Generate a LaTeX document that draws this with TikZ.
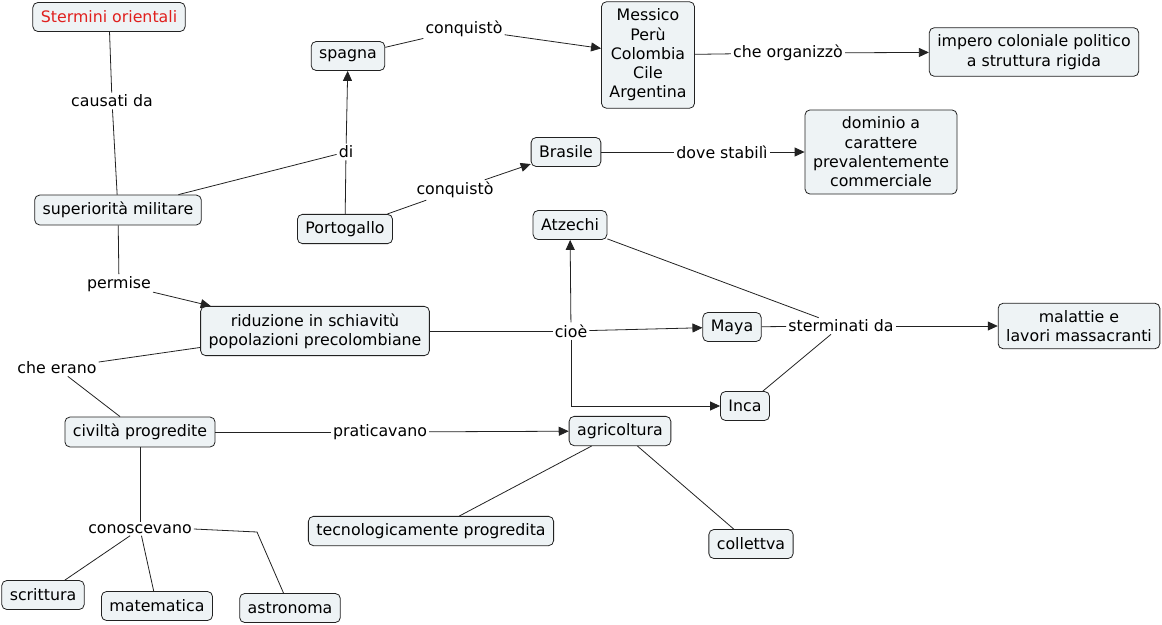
\documentclass[tikz,border=0pt]{standalone}
\usepackage{fontspec}
\setmainfont{DejaVu Sans}
\usetikzlibrary{arrows.meta}
\definecolor{boxfill}{HTML}{EEF3F5}
\definecolor{redtext}{HTML}{E0201E}
\definecolor{ink}{HTML}{222222}
\begin{document}
\begin{tikzpicture}[x=1pt,y=-1pt,
  concept/.style={draw=ink, fill=boxfill, rounded corners=5pt, align=center,
    inner xsep=8pt, inner ysep=7pt, minimum height=29pt,
    font=\fontsize{15.8}{19.3}\selectfont, line width=0.8pt},
  lbl/.style={inner sep=2pt, font=\fontsize{15.8}{19.3}\selectfont},
  link/.style={draw=ink, line width=0.8pt},
  arr/.style={link, -{Triangle[length=10pt,width=9pt]}}]
\useasboundingbox (0,0) rectangle (1162,624);

% concepts
\node[concept, text=redtext] (ster) at (109,17) {Stermini orientali};
\node[concept] (spagna) at (348,56) {spagna};
\node[concept] (mess) at (648,55) {Messico\\Perù\\Colombia\\Cile\\Argentina};
\node[concept] (imp) at (1034,52) {impero coloniale politico\\a struttura rigida};
\node[concept] (bras) at (566,152) {Brasile};
\node[concept] (dom) at (881,152) {dominio a\\carattere\\prevalentemente\\commerciale};
\node[concept] (sup) at (118,210) {superiorità militare};
\node[concept] (port) at (345,229) {Portogallo};
\node[concept] (atz) at (570,225) {Atzechi};
\node[concept] (rid) at (315,331) {riduzione in schiavitù\\popolazioni precolombiane};
\node[concept] (maya) at (732,327) {Maya};
\node[concept] (mal) at (1079,326) {malattie e\\lavori massacranti};
\node[concept] (inca) at (745,406) {Inca};
\node[concept] (civ) at (140,432) {civiltà progredite};
\node[concept] (agr) at (620,431) {agricoltura};
\node[concept] (tec) at (431,531) {tecnologicamente progredita};
\node[concept] (coll) at (751,544) {collettva};
\node[concept] (scr) at (43,595) {scrittura};
\node[concept] (mat) at (157,606) {matematica};
\node[concept] (ast) at (290,608) {astronoma};

% linking phrases
\node[lbl] (causati) at (112,101) {causati da};
\node[lbl] (conq1) at (464,29) {conquistò};
\node[lbl] (organ) at (788,53) {che organizzò};
\node[lbl] (di) at (346,152) {di};
\node[lbl] (conq2) at (455,190) {conquistò};
\node[lbl] (dove) at (722,152) {dove stabilì};
\node[lbl] (permise) at (119,284) {permise};
\node[lbl] (cioe) at (571,331) {cioè};
\node[lbl] (sterm) at (841,326) {sterminati da};
\node[lbl] (chee) at (57,368) {che erano};
\node[lbl] (prat) at (380,432) {praticavano};
\node[lbl] (conosc) at (140,529) {conoscevano};
\coordinate (astbend) at (257,532);

% connectors
\draw[link] (ster) -- (causati);
\draw[link] (causati) -- (sup);
\draw[link] (sup) -- (di);
\draw[link] (port) -- (di);
\draw[arr] (di) -- (spagna);
\draw[link] (spagna) -- (conq1);
\draw[arr] (conq1) -- (mess);
\draw[link] (mess) -- (organ);
\draw[arr] (organ) -- (imp);
\draw[link] (port) -- (conq2);
\draw[arr] (conq2) -- (bras);
\draw[link] (bras) -- (dove);
\draw[arr] (dove) -- (dom);
\draw[link] (sup) -- (permise);
\draw[arr] (permise) -- (rid);
\draw[link] (rid) -- (chee);
\draw[link] (chee) -- (civ);
\draw[link] (rid) -- (cioe);
\draw[arr] (cioe) -- (atz);
\draw[arr] (cioe) -- (maya);
\draw[arr] (cioe) |- (inca);
\draw[link] (atz) -- (sterm);
\draw[link] (maya) -- (sterm);
\draw[link] (inca) -- (sterm);
\draw[arr] (sterm) -- (mal);
\draw[link] (civ) -- (prat);
\draw[arr] (prat) -- (agr);
\draw[link] (agr) -- (tec);
\draw[link] (agr) -- (coll);
\draw[link] (civ) -- (conosc);
\draw[link] (conosc) -- (scr);
\draw[link] (conosc) -- (mat);
\draw[link] (conosc.east) -- (astbend) -- (ast);
\end{tikzpicture}
\end{document}
